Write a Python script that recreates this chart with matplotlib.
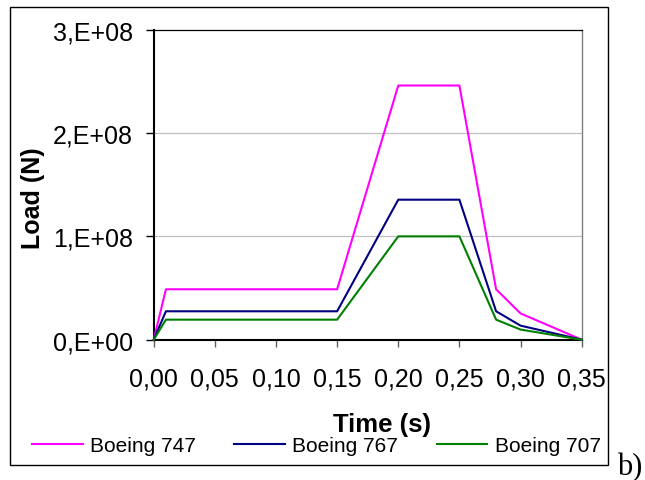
import matplotlib
matplotlib.use("Agg")
import matplotlib.pyplot as plt
from matplotlib.patches import Rectangle

# ---- data ----
time_s = [0.00, 0.01, 0.15, 0.20, 0.25, 0.28, 0.30, 0.35]
boeing_747 = [0, 4.88e7, 4.88e7, 2.46e8, 2.46e8, 4.88e7, 2.54e7, 0]
boeing_767 = [0, 2.75e7, 2.75e7, 1.355e8, 1.355e8, 2.75e7, 1.36e7, 0]
boeing_707 = [0, 1.94e7, 1.94e7, 1.00e8, 1.00e8, 1.94e7, 0.98e7, 0]
series_names = ["Boeing 747", "Boeing 767", "Boeing 707"]
x_ticks = [0.00, 0.05, 0.10, 0.15, 0.20, 0.25, 0.30, 0.35]
x_tick_labels = ["0,00", "0,05", "0,10", "0,15", "0,20", "0,25", "0,30", "0,35"]
y_ticks = [0, 1e8, 2e8, 3e8]
y_tick_labels = ["0,E+00", "1,E+08", "2,E+08", "3,E+08"]

plt.rcParams['font.family'] = ['Liberation Sans', 'DejaVu Sans']

W, H = 645, 481
fig = plt.figure(figsize=(W / 100, H / 100), dpi=100)
fig.patch.set_facecolor("white")

# outer chart border
fig.patches.append(Rectangle((9.5 / W, 1 - 465.7 / H), (607.7 - 9.5) / W, (465.7 - 8.3) / H,
                             transform=fig.transFigure, fill=False, edgecolor="black",
                             linewidth=1.0, zorder=0))

ax = fig.add_axes([153.7 / W, 1 - 340.7 / H, (581.7 - 153.7) / W, (340.7 - 30.7) / H])

colors = ["#FF00FF", "#000080", "#008000"]
for vals, name, c in zip([boeing_747, boeing_767, boeing_707], series_names, colors):
    ax.plot(time_s, vals, color=c, linewidth=1.5, label=name, clip_on=False, zorder=3)

ax.set_xlim(0, 0.35)
ax.set_ylim(0, 3e8)
ax.set_xticks(x_ticks)
ax.set_xticklabels(x_tick_labels)
ax.set_yticks(y_ticks)
ax.set_yticklabels(y_tick_labels)

for yv in y_ticks[1:-1]:
    ax.axhline(yv, color="#c0c0c0", linewidth=0.9, zorder=1)

ax.spines['left'].set_linewidth(1.5)
ax.spines['bottom'].set_linewidth(1.5)
ax.spines['top'].set_linewidth(0.9)
ax.spines['right'].set_linewidth(1.0)
ax.spines['right'].set_color("#808080")

ax.tick_params(axis='y', direction='out', length=6, width=1.0, pad=9, labelsize=18, colors="black")
ax.tick_params(axis='x', direction='out', length=5, width=1.0, pad=14, labelsize=18,
               color="#606060", labelcolor="black")

ax.set_xlabel("Time (s)", fontsize=18.5, fontweight="bold", va="center")
ax.xaxis.set_label_coords((382 - 153.7) / 428, (340.7 - 425.5) / 310)
ax.set_ylabel("Load (N)", fontsize=18, fontweight="bold", va="center")
ax.yaxis.set_label_coords((33 - 153.7) / 428, (340.7 - 198) / 310)

fig.legend(loc="center left", bbox_to_anchor=(32 / W, 1 - 446.7 / H), ncol=3, frameon=False,
           fontsize=15, handlelength=2.44, handletextpad=0.34, columnspacing=1.85,
           borderpad=0, borderaxespad=0)

fig.text(617 / W, 1 - 475 / H, "b)", family=["Liberation Serif", "DejaVu Serif"],
         fontsize=22, ha="left", va="baseline")

fig.savefig("out.png", dpi=100)
